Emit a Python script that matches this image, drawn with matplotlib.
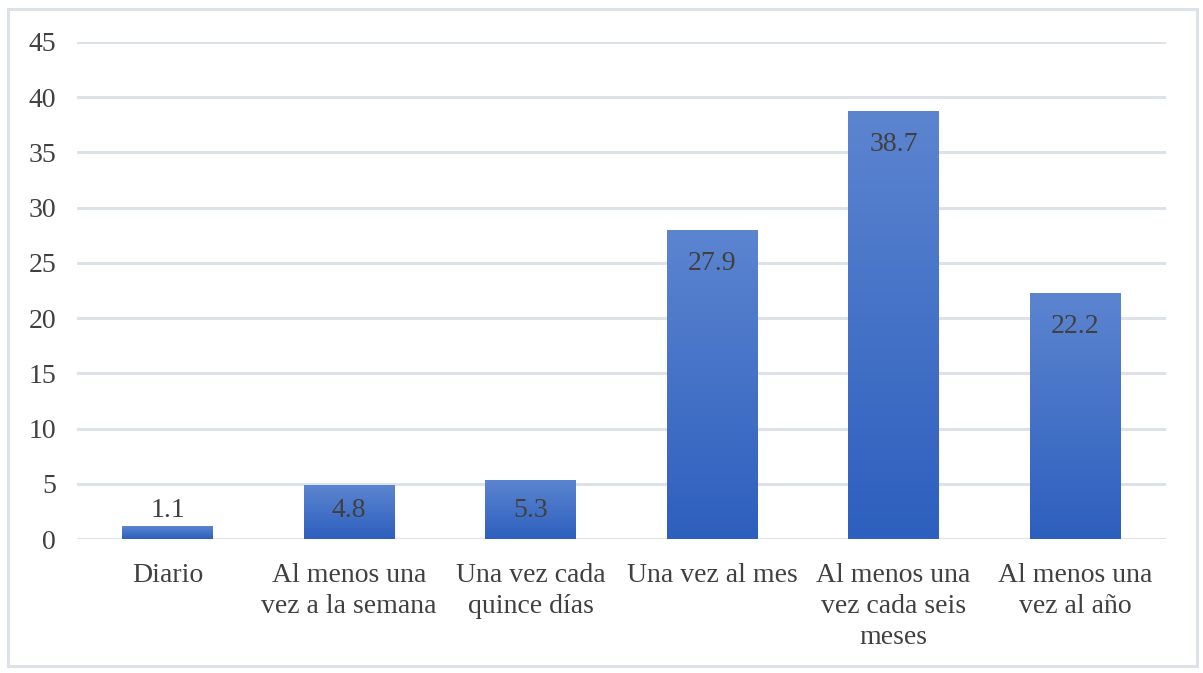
import numpy as np
import matplotlib.pyplot as plt
from matplotlib.patches import Rectangle

categories = ["Diario", "Al menos una\nvez a la semana", "Una vez cada\nquince días",
              "Una vez al mes", "Al menos una\nvez cada seis\nmeses", "Al menos una\nvez al año"]
values = [1.1, 4.8, 5.3, 27.9, 38.7, 22.2]
yticks = [0, 5, 10, 15, 20, 25, 30, 35, 40, 45]

plt.rcParams['font.family'] = ['Liberation Serif', 'DejaVu Serif']
text_color = '#404040'
grid_color = '#dde1e8'

fig = plt.figure(figsize=(12.03, 6.73), dpi=100)
ax = fig.add_axes([0.064, 0.199, 0.905, 0.7386])

# figure border
fig.patches.append(Rectangle((0.007, 0.011), 0.988, 0.975, transform=fig.transFigure,
                             fill=False, edgecolor=grid_color, linewidth=2.2))

x = np.arange(len(categories))
width = 0.5
grad = np.linspace(0, 1, 256).reshape(-1, 1)
cmap = plt.matplotlib.colors.LinearSegmentedColormap.from_list('blu', ['#2d5fbe', '#5c85d0'])

for xi, v in zip(x, values):
    ax.imshow(grad, cmap=cmap, origin='lower', aspect='auto',
              extent=(xi - width / 2, xi + width / 2, 0, v), zorder=3)
    ax.text(xi, max(v - 2.95, 2.6), f"{v:.1f}", ha='center', va='center',
            fontsize=20, color=text_color, zorder=4)

ax.set_xlim(-0.5, len(categories) - 0.5)
ax.set_ylim(0, 45)
ax.set_yticks(yticks)
ax.set_xticks(x)
ax.set_xticklabels(categories, fontsize=20, color=text_color, linespacing=1.33)
ax.tick_params(axis='y', labelsize=20, labelcolor=text_color, length=0, pad=15)
ax.tick_params(axis='x', length=0, pad=17)
ax.yaxis.grid(True, color=grid_color, linewidth=2.2, zorder=0)
ax.set_axisbelow(True)
for s in ax.spines.values():
    s.set_visible(False)

fig.savefig('out.png', dpi=100)
